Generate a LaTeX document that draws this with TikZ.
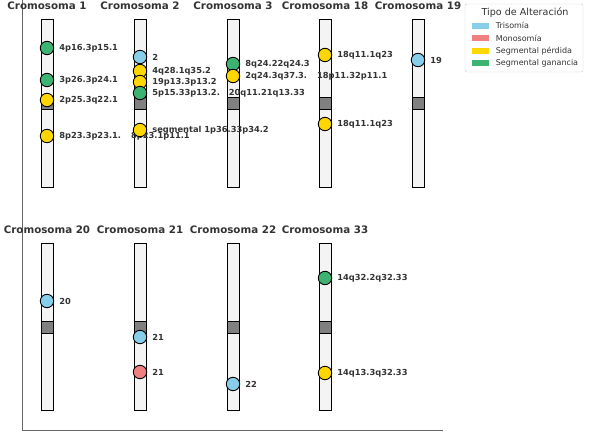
\documentclass[tikz,border=0pt]{standalone}
\usepackage{fontspec}
\setmainfont{DejaVu Sans}
\usetikzlibrary{positioning}

\definecolor{trisomia}{HTML}{87CEEB}
\definecolor{monosomia}{HTML}{F08080}
\definecolor{perdida}{HTML}{FFD700}
\definecolor{ganancia}{HTML}{3CB371}
\definecolor{txtgray}{HTML}{333333}
\definecolor{chromfill}{HTML}{F4F4F4}

\begin{document}
\begin{tikzpicture}[x=1pt,y=-1pt,
  chromo/.style={draw=black, fill=chromfill, line width=1pt, minimum width=12pt, minimum height=167pt, inner sep=0pt},
  centro/.style={draw=black, fill=black!50, line width=1pt, minimum width=12pt, minimum height=12pt, inner sep=0pt},
  altdot/.style={circle, draw=black, line width=0.9pt, minimum size=13.4pt, inner sep=0pt},
  lbl/.style={inner sep=0pt, text=txtgray, font=\bfseries\fontsize{8.3}{9}\selectfont},
  ttl/.style={inner sep=0pt, text=txtgray, font=\bfseries\fontsize{10.3}{12}\selectfont},
  legtxt/.style={inner sep=0pt, text=txtgray, font=\fontsize{8}{9}\selectfont},
  patch/.style={inner sep=0pt, minimum width=17pt, minimum height=6pt}]

\useasboundingbox (0,0) rectangle (589,436);

% Axis frame (left and bottom)
\coordinate (axtop) at (22,0);
\coordinate (axcorner) at (22,430);
\coordinate (axend) at (443,430);
\draw[black!60, line width=0.8pt] (axtop) -- (axcorner) -- (axend);

% Chromosomes with centromere and title
\foreach \n/\x/\y/\t in {c1/47/103.5/1, c2/140/103.5/2, c3/233/103.5/3, c18/325/103.5/18, c19/418/103.5/19,
                         c20/47/327/20, c21/140/327/21, c22/233/327/22, c33/325/327/33} {
  \node[chromo] (\n) at (\x,\y) {};
  \node[centro] (\n-cen) at (\n.center) {};
  \node[ttl] (\n-t) at (\x,\y-97.5) {Cromosoma \t};
}

% Alterations: marker and its band label
\foreach \n/\x/\y/\c/\t in {
    m1a/47/48/ganancia/4p16.3p15.1,
    m1b/47/80/ganancia/3p26.3p24.1,
    m1c/47/100/perdida/2p25.3q22.1,
    m1d/47/136/perdida/8p23.3p23.1.\hspace{10pt}8p23.1p11.1,
    m2a/140/57/trisomia/2,
    m2b/140/71/perdida/4q28.1q35.2,
    m2c/140/82/perdida/19p13.3p13.2,
    m2d/140/93/ganancia/5p15.33p13.2.\hspace{9pt}20q11.21q13.33,
    m2e/140/130/perdida/segmental 1p36.33p34.2,
    m3a/233/64/ganancia/8q24.22q24.3,
    m3b/233/76/perdida/2q24.3q37.3.\hspace{10pt}18p11.32p11.1,
    m18a/325/55/perdida/18q11.1q23,
    m18b/325/124/perdida/18q11.1q23,
    m19a/418/60/trisomia/19,
    m20a/47/301/trisomia/20,
    m21a/140/337/trisomia/21,
    m21b/140/372/monosomia/21,
    m22a/233/384/trisomia/22,
    m33a/325/278/ganancia/14q32.2q32.33,
    m33b/325/373/perdida/14q13.3q32.33} {
  \node[altdot, fill=\c] (\n) at (\x,\y) {};
  \node[lbl, right=5pt of \n] (\n-l) {\t};
}

% Legend
\node[draw=black!20, fill=white, rounded corners=2pt, minimum width=118pt, minimum height=68pt, inner sep=0pt] (leg) at (524,38) {};
\node[inner sep=0pt, text=txtgray, font=\fontsize{9.6}{11}\selectfont] (leg-t) at (525,13) {Tipo de Alteración};
\foreach \n/\y/\c/\t in {lt/25.7/trisomia/Trisomía, lm/38.3/monosomia/Monosomía,
                         lp/51.3/perdida/Segmental pérdida, lg/63.3/ganancia/Segmental ganancia} {
  \node[patch, fill=\c] (\n) at (480.5,\y) {};
  \node[legtxt, right=6.5pt of \n] (\n-l) {\t};
}

\end{tikzpicture}
\end{document}
